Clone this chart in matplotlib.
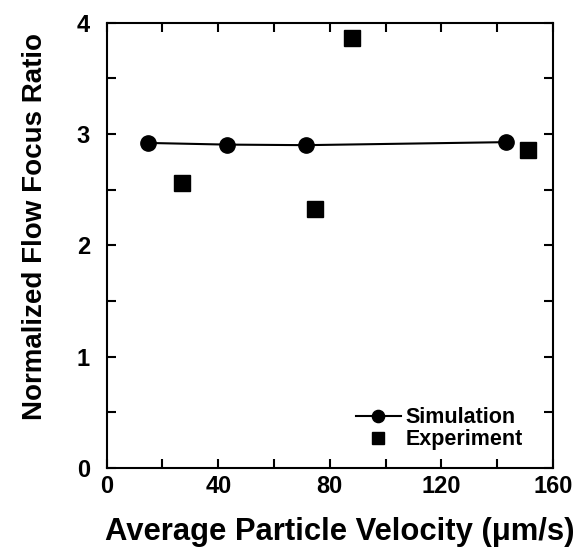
import matplotlib
matplotlib.use("Agg")
import matplotlib.pyplot as plt
from matplotlib.ticker import MultipleLocator

plt.rcParams['font.family'] = ['Liberation Sans', 'DejaVu Sans']
plt.rcParams['font.weight'] = 'bold'

sim_x = [14.7, 43.0, 71.4, 143.0]
sim_y = [2.92, 2.905, 2.90, 2.927]
exp_x = [26.9, 74.7, 87.8, 151.0]
exp_y = [2.56, 2.33, 3.86, 2.86]

W, H = 582, 548
fig = plt.figure(figsize=(W/100, H/100), dpi=100)
ax = fig.add_axes([106.7/W, (H-468)/H, (553-106.7)/W, (468-22.7)/H])

ax.plot(sim_x, sim_y, color='black', lw=1.5, marker='o', ms=11, label='Simulation')
ax.plot(exp_x, exp_y, color='black', ls='none', marker='s', ms=11, label='Experiment')

ax.set_xlim(0, 160)
ax.set_ylim(0, 4)
ax.xaxis.set_major_locator(MultipleLocator(40))
ax.xaxis.set_minor_locator(MultipleLocator(20))
ax.yaxis.set_major_locator(MultipleLocator(1))
ax.yaxis.set_minor_locator(MultipleLocator(0.5))
ax.tick_params(which='both', direction='in', top=True, right=True, length=6.5, width=1.5)
ax.tick_params(which='major', labelsize=17)
ax.tick_params(axis='x', which='major', pad=5)
ax.tick_params(axis='y', which='major', pad=12)
for s in ax.spines.values():
    s.set_linewidth(1.5)
for lab in ax.get_xticklabels() + ax.get_yticklabels():
    lab.set_fontweight('bold')

ax.set_xlabel('Average Particle Velocity (\u03bcm/s)', fontsize=22.3, fontweight='bold', labelpad=14)
ax.set_ylabel('Normalized Flow Focus Ratio', fontsize=20, fontweight='bold', labelpad=21)
ax.xaxis.label.set_x(0.523)
ax.yaxis.label.set_y(0.543)

leg = ax.legend(loc='lower right', frameon=False, fontsize=15.5, handlelength=2.1,
                handletextpad=0.23, labelspacing=0.05, borderaxespad=0, borderpad=0,
                markerscale=0.8, bbox_to_anchor=(0.933, 0.04))

fig.savefig('out.png', dpi=100)
